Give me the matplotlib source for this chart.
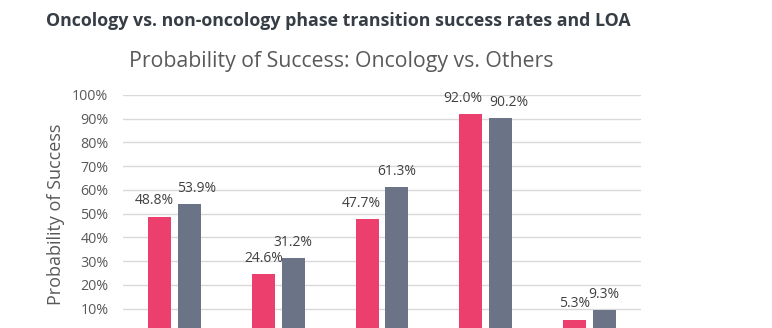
import numpy as np
import matplotlib.pyplot as plt

# phase transition success rates (%)
phases = ["Phase I to II", "Phase II to III", "Phase III to NDA/BLA",
          "NDA/BLA to Approval", "LOA from Phase I"]
oncology = [48.8, 24.6, 47.7, 92.0, 5.3]
others = [53.9, 31.2, 61.3, 90.2, 9.3]
yticks = [0, 10, 20, 30, 40, 50, 60, 70, 80, 90, 100]

PINK = "#ec3f6e"
SLATE = "#6b7386"
GREY_TXT = "#595959"

plt.rcParams['font.family'] = ['Open Sans', 'DejaVu Sans']

fig = plt.figure(figsize=(7.72, 3.28), dpi=100)
ax = fig.add_axes([123 / 772, -4.4 / 328, 518 / 772, 237.4 / 328])

x = np.arange(len(phases))
w = 0.222
off = 0.143
b1 = ax.bar(x - off, oncology, w, color=PINK, zorder=3)
b2 = ax.bar(x + off, others, w, color=SLATE, zorder=3)

# small sideways nudges so neighbouring labels don't collide
nudge_onc = [-4, 0, -4.5, -6, 0]
nudge_oth = [5, 0, 0, 6, 0]
for bars, vals, nud in ((b1, oncology, nudge_onc), (b2, others, nudge_oth)):
    for rect, v, dx in zip(bars, vals, nud):
        ax.annotate(f"{v:.1f}%", (rect.get_x() + rect.get_width() / 2, v),
                    xytext=(dx, 6), textcoords="offset points",
                    ha="center", va="bottom", fontsize=10, color="#404040")

ax.set_xlim(-0.5, len(phases) - 0.5)
ax.set_ylim(0, 100)
ax.set_yticks(yticks)
ax.set_yticklabels([f"{t}%" for t in yticks])
ax.set_xticks(x)
ax.set_xticklabels(phases)
ax.tick_params(axis="y", length=0, pad=10.5, labelsize=10.3, labelcolor=GREY_TXT)
ax.tick_params(axis="x", length=0, labelbottom=False)
ax.grid(axis="y", color="#d9d9d9", linewidth=1, zorder=0)
for s in ax.spines.values():
    s.set_visible(False)

fig.text(46 / 772, 1 - 26 / 328, "Oncology vs. non-oncology phase transition success rates and LOA",
         fontsize=12.8, fontweight="bold", color="#363d45", va="baseline", ha="left")
fig.text(129 / 772, 1 - 67 / 328, "Probability of Success: Oncology vs. Others",
         fontsize=15.3, color=GREY_TXT, va="baseline", ha="left")
fig.text(56 / 772, 1 - 214 / 328, "Probability of Success", rotation=90,
         fontsize=13, color=GREY_TXT, va="center", ha="center")

fig.savefig("out.png", dpi=100)
